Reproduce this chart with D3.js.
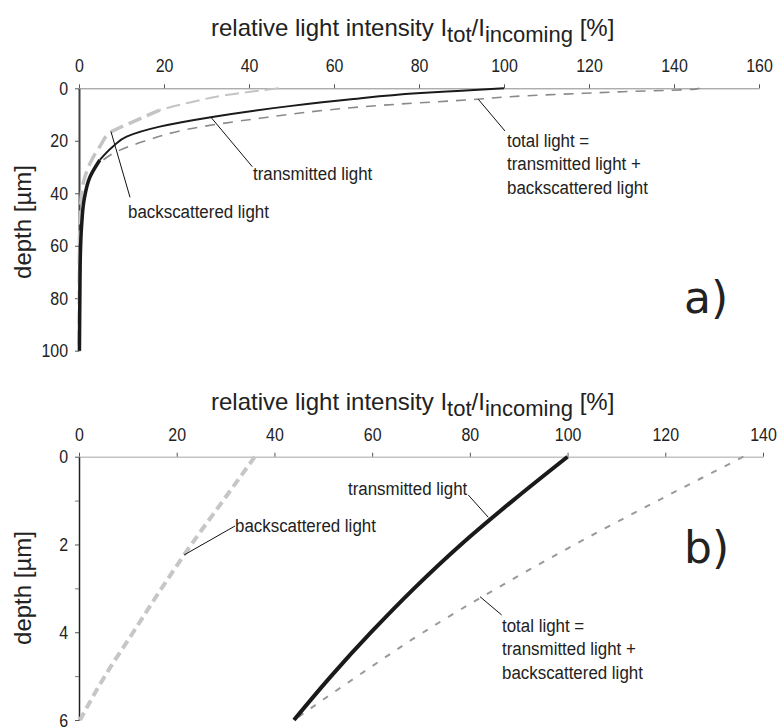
<!DOCTYPE html>
<html lang="en">
<head>
<meta charset="UTF-8">
<title>relative light intensity vs depth</title>
<script src="https://d3js.org/d3.v7.min.js"></script>
<style>
  body { margin: 0; background: #fff; }
  svg { display: block; background: #fff; }
  .tick text { font-family: 'Liberation Sans', Arial, sans-serif; font-size: 19px; fill: #222; }
  .title { font-family: 'Liberation Sans', Arial, sans-serif; font-size: 24px; fill: #222; }
  .ylab { font-family: 'Liberation Sans', Arial, sans-serif; font-size: 24px; fill: #222; }
  .note { font-family: 'Liberation Sans', Arial, sans-serif; font-size: 19px; fill: #222; }
  .panel { font-family: 'DejaVu Sans', sans-serif; font-size: 44px; fill: #222; }
  .leader { stroke: #111; stroke-width: 1; fill: none; }
</style>
</head>
<body>
<svg width="779" height="727"></svg>
<script>
// ---- panel a: depth 0-100 µm ----
const depthTransA = [0, 1, 1.9, 4.2, 6.7, 11, 14.6, 18.4, 22.2, 27.3, 33.7, 42.5, 52.7, 65, 80, 100];
const transA      = [100, 89, 79.5, 64, 50, 31, 19, 11.2, 8, 4.9, 2.6, 1.2, 0.6, 0.3, 0.2, 0.1];
const depthBackA  = [0, 2.55, 5.7, 8.3, 12.7, 16.5, 22.2, 27.3, 33.7, 40, 50, 60, 100];
const backA       = [47, 34.7, 25.3, 19, 12.8, 7.7, 4.9, 3, 1.4, 0.6, 0.3, 0.1, 0.05];
const depthTotA   = [0, 0.4, 1.3, 1.9, 3.2, 4.2, 6, 7, 8.3, 11.4, 15.2, 20.3, 24.1, 27.3, 31.1, 37.5, 45, 60, 100];
const totA        = [146, 144.5, 128, 118.7, 101.4, 93.6, 75.5, 66.9, 58.3, 42.6, 26.9, 15.1, 8.9, 5.7, 3.4, 1.8, 0.9, 0.4, 0.2];
const xTicksA = [0, 20, 40, 60, 80, 100, 120, 140, 160];
const yTicksA = [0, 20, 40, 60, 80, 100];

// ---- panel b: depth 0-6 µm ----
const depthB = [0, 1, 2, 3, 4, 5, 6];
const transB = [100, 88.8, 78.2, 68.6, 59.8, 51.6, 44];
const backB  = [36, 29.5, 23, 16.9, 11.1, 5.3, 0.2];
const totB   = [136, 118.5, 101.5, 85.5, 70.5, 57, 44];
const xTicksB = [0, 20, 40, 60, 80, 100, 120, 140];
const yTicksB = [0, 2, 4, 6];
const yMinorB = [1, 3, 5];

const svg = d3.select("svg");
const NARROW_TICK = 0.84, NARROW_NOTE = 0.89;   // no condensed face installed, squeeze instead

function pairs(ds, vs) { return ds.map((d, i) => ({ d: d, v: vs[i] })); }

function title(y) {
  const t = svg.append("text").attr("class", "title").attr("x", 211).attr("y", y);
  t.append("tspan").text("relative light intensity I");
  t.append("tspan").attr("font-size", 22).attr("dy", 6).text("tot");
  t.append("tspan").attr("dy", -6).text("/I");
  t.append("tspan").attr("font-size", 22).attr("dy", 6).text("incoming");
  t.append("tspan").attr("dy", -6).text(" [%]");
}

function yLabel(cy) {
  svg.append("text").attr("class", "ylab")
    .attr("transform", `translate(31,${cy}) rotate(-90)`)
    .attr("text-anchor", "middle")
    .text("depth [µm]");
}

function squeezeTicks(g) {
  g.selectAll(".tick text").each(function () {
    const t = d3.select(this);
    const x = +t.attr("x") || 0;
    t.attr("x", x / NARROW_TICK).attr("transform", `scale(${NARROW_TICK},1)`);
  });
}

function curve(x, y, data, color, width, dash) {
  const line = d3.line().x(p => x(p.v)).y(p => y(p.d)).curve(d3.curveMonotoneY);
  svg.append("path").datum(data)
    .attr("d", line)
    .attr("fill", "none")
    .attr("stroke", color)
    .attr("stroke-width", width)
    .attr("stroke-dasharray", dash || null)
    .attr("stroke-linecap", "butt");
}

function leader(x1, y1, x2, y2) {
  svg.append("line").attr("class", "leader")
    .attr("x1", x1).attr("y1", y1).attr("x2", x2).attr("y2", y2);
}

function note(x, y, lines) {
  const t = svg.append("text").attr("class", "note")
    .attr("transform", `translate(${x},${y}) scale(${NARROW_NOTE},1)`);
  lines.forEach((s, i) => t.append("tspan").attr("x", 0).attr("dy", i ? 23.5 : 0).text(s));
}

// ================= panel a =================
const xA = d3.scaleLinear().domain([0, 160]).range([79, 759]);
const yA = d3.scaleLinear().domain([0, 100]).range([88.3, 350.7]);

title(36);
yLabel(222);

const gxA = svg.append("g").attr("transform", `translate(0,${yA(0)})`)
  .call(d3.axisTop(xA).tickValues(xTicksA).tickSize(4).tickSizeOuter(0).tickPadding(12));
gxA.select(".domain").attr("stroke", "#8a8a8a").attr("stroke-width", 1);
gxA.selectAll(".tick line").attr("stroke", "#555");
squeezeTicks(gxA);

const gyA = svg.append("g").attr("transform", `translate(${xA(0)},0)`)
  .call(d3.axisLeft(yA).tickValues(yTicksA).tickSize(4).tickSizeOuter(0).tickPadding(7));
gyA.select(".domain").attr("stroke", "#444").attr("stroke-width", 2);
gyA.selectAll(".tick line").attr("stroke", "#555");
squeezeTicks(gyA);

const backAData = pairs(depthBackA, backA);
curve(xA, yA, backAData.filter(p => p.d <= 9), "#c4c4c4", 2, "14,6");
curve(xA, yA, backAData.filter(p => p.d >= 8.3), "#c4c4c4", 3.5, "14,6");
curve(xA, yA, pairs(depthTotA, totA), "#8a8a8a", 1.6, "10,8");
const transAData = pairs(depthTransA, transA);
curve(xA, yA, transAData.filter(p => p.d <= 30), "#1a1a1a", 2);
curve(xA, yA, transAData.filter(p => p.d >= 27.3), "#1a1a1a", 3.5);

leader(211, 117.3, 252.3, 166.7);
note(253, 180, ["transmitted light"]);
leader(111, 131.7, 130, 197.3);
note(128, 218, ["backscattered light"]);
leader(478.3, 99.3, 505, 131);
note(507, 147, ["total light =", "transmitted light +", "backscattered light"]);

svg.append("text").attr("class", "panel").attr("x", 684).attr("y", 313).text("a)");

// ================= panel b =================
const xB = d3.scaleLinear().domain([0, 140]).range([79, 763]);
const yB = d3.scaleLinear().domain([0, 6]).range([456.7, 720]);

title(410);
yLabel(588);

const gxB = svg.append("g").attr("transform", `translate(0,${yB(0)})`)
  .call(d3.axisTop(xB).tickValues(xTicksB).tickSize(4).tickSizeOuter(0).tickPadding(12));
gxB.select(".domain").attr("stroke", "#c4c4c4").attr("stroke-width", 1.5);
gxB.selectAll(".tick line").attr("stroke", "#555");
squeezeTicks(gxB);

const gyB = svg.append("g").attr("transform", `translate(${xB(0)},0)`)
  .call(d3.axisLeft(yB).tickValues(yTicksB).tickFormat(d3.format("d")).tickSize(4).tickSizeOuter(0).tickPadding(7));
gyB.select(".domain").attr("stroke", "#222").attr("stroke-width", 1.5);
gyB.selectAll(".tick line").attr("stroke", "#555");
squeezeTicks(gyB);
const gyBm = svg.append("g").attr("transform", `translate(${xB(0)},0)`)
  .call(d3.axisLeft(yB).tickValues(yMinorB).tickSize(4).tickSizeOuter(0).tickFormat(""));
gyBm.select(".domain").remove();
gyBm.selectAll(".tick line").attr("stroke", "#777");

curve(xB, yB, pairs(depthB, backB), "#c6c6c6", 4, "9,5");
curve(xB, yB, pairs(depthB, totB), "#9a9a9a", 2, "6,9");
curve(xB, yB, pairs(depthB, transB), "#1a1a1a", 4);

leader(468.3, 495, 488.3, 517.3);
note(348, 495, ["transmitted light"]);
leader(235, 526, 184, 555);
note(235, 532, ["backscattered light"]);
leader(480, 596.7, 501.7, 615);
note(502, 632, ["total light =", "transmitted light +", "backscattered light"]);

svg.append("text").attr("class", "panel").attr("x", 684).attr("y", 563).text("b)");
</script>
</body>
</html>
